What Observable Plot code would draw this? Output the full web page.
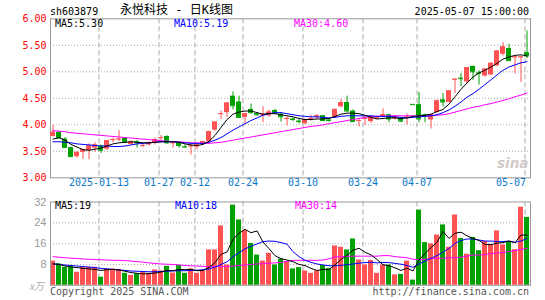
<!DOCTYPE html>
<html><head><meta charset="utf-8">
<script src="https://cdn.jsdelivr.net/npm/d3@7"></script>
<script src="https://cdn.jsdelivr.net/npm/@observablehq/plot@0.6"></script>
<style>
html,body{margin:0;padding:0;background:#fff;}
#wrap{position:relative;width:545px;height:300px;overflow:hidden;font-family:"DejaVu Sans Mono",monospace;font-size:10px;}
#wrap svg{position:absolute;left:0;}
.t{position:absolute;white-space:nowrap;line-height:12px;}
</style></head><body><div id="wrap"></div>
<script>
// ---- data ----
const tickIndex = [8, 18, 24, 32, 42, 52, 61, 79];
const tickLabels = ["2025-01-13","01-27","02-12","02-24","03-10","03-24","04-07","05-07"];
const priceTicks = [3, 3.5, 4, 4.5, 5, 5.5, 6];
const volTicks = [8, 16, 24, 32];

const open = [3.78,3.86,3.73,3.57,3.40,3.48,3.51,3.56,3.60,3.54,
 3.71,3.72,3.75,3.63,3.68,3.60,3.62,3.66,3.75,3.78,
 3.65,3.66,3.59,3.59,3.58,3.63,3.68,3.90,4.20,4.23,
 4.54,4.43,4.14,4.29,4.21,4.17,4.17,4.27,4.20,4.11,
 4.11,4.07,4.02,4.11,4.14,4.17,4.09,4.14,4.34,4.42,
 4.26,4.07,4.11,4.06,4.13,4.15,4.19,4.11,4.12,4.14,
 4.385,4.38,4.19,4.09,4.23,4.47,4.42,4.85,4.88,4.81,
 5.10,4.98,4.92,4.94,5.11,5.33,5.44,5.27,5.27,5.36];
const high = [3.99,3.87,3.76,3.58,3.49,3.54,3.64,3.66,3.62,3.71,
 3.75,3.89,3.76,3.70,3.70,3.65,3.68,3.75,3.80,3.79,
 3.68,3.67,3.62,3.63,3.64,3.69,3.88,4.06,4.26,4.42,
 4.62,4.54,4.22,4.39,4.23,4.34,4.28,4.29,4.23,4.15,
 4.13,4.10,4.11,4.18,4.19,4.18,4.12,4.30,4.48,4.54,
 4.28,4.12,4.16,4.16,4.16,4.30,4.20,4.17,4.13,4.20,
 4.385,4.61,4.20,4.20,4.47,4.59,4.64,4.87,4.97,5.08,
 5.11,5.02,5.06,5.17,5.40,5.55,5.52,5.29,5.29,5.77];
const low = [3.77,3.74,3.56,3.38,3.37,3.35,3.34,3.48,3.46,3.52,
 3.66,3.68,3.65,3.62,3.56,3.57,3.60,3.62,3.70,3.63,
 3.56,3.56,3.56,3.43,3.53,3.62,3.66,3.88,4.10,4.14,
 4.28,4.12,4.01,4.20,4.16,4.04,4.14,4.20,4.05,3.98,
 4.06,4.02,4.00,4.07,4.10,4.06,4.05,4.12,4.32,4.24,
 4.05,3.96,3.99,4.03,4.10,4.13,4.04,4.09,4.04,4.00,
 4.38,4.04,4.04,3.92,4.22,4.34,4.42,4.59,4.72,4.78,
 4.84,4.75,4.90,4.93,5.10,5.30,5.20,4.96,4.80,5.25];
const close = [3.86,3.75,3.57,3.40,3.48,3.53,3.60,3.62,3.52,3.70,
 3.72,3.73,3.67,3.68,3.66,3.61,3.66,3.72,3.76,3.66,
 3.66,3.61,3.58,3.60,3.62,3.68,3.87,4.05,4.21,4.41,
 4.36,4.14,4.21,4.23,4.19,4.20,4.24,4.22,4.15,4.12,
 4.10,4.06,4.10,4.12,4.17,4.08,4.08,4.29,4.42,4.26,
 4.06,4.08,4.12,4.15,4.14,4.19,4.11,4.15,4.07,4.15,
 4.38,4.11,4.17,4.19,4.45,4.43,4.64,4.86,4.87,5.08,
 5.00,4.97,5.05,5.16,5.39,5.47,5.21,5.28,5.28,5.30];
const volume = [9.3,8.2,6.9,7.6,5.0,6.9,6.9,6.9,3.1,6.3,
 6.3,6.1,4.6,3.8,4.4,5.0,4.6,5.9,5.5,7.3,
 4.7,7.7,4.6,6.3,4.6,5.5,13.6,13.6,22.8,7.8,
 30.8,25.1,21.0,16.1,11.6,9.3,12.3,7.8,10.1,9.1,
 6.3,6.8,5.5,4.6,5.5,7.6,6.5,15.1,14.6,13.6,
 17.8,9.7,7.8,9.5,4.6,7.8,7.8,4.0,4.2,9.3,
 2.0,28.9,16.4,15.9,19.3,23.2,14.6,27.0,18.0,11.9,
 18.4,13.3,16.8,15.5,20.9,15.5,16.5,13.7,30.0,26.1];

const ma5 = [3.73,3.76,3.71,3.63,3.58,3.53,3.52,3.54,3.56,3.60,
 3.64,3.66,3.67,3.68,3.67,3.66,3.66,3.67,3.68,3.68,
 3.68,3.67,3.64,3.62,3.61,3.63,3.69,3.80,3.95,4.10,
 4.20,4.24,4.26,4.26,4.23,4.20,4.21,4.21,4.19,4.17,
 4.15,4.12,4.10,4.10,4.11,4.11,4.12,4.16,4.20,4.22,
 4.22,4.21,4.18,4.14,4.11,4.12,4.13,4.13,4.12,4.13,
 4.16,4.17,4.18,4.20,4.25,4.29,4.39,4.53,4.67,4.79,
 4.90,4.98,5.03,5.09,5.16,5.24,5.28,5.31,5.32,5.30];
const ma10 = [3.68,3.68,3.67,3.66,3.64,3.63,3.62,3.61,3.60,3.60,
 3.59,3.59,3.60,3.62,3.64,3.65,3.66,3.67,3.68,3.68,
 3.68,3.67,3.66,3.65,3.65,3.65,3.67,3.71,3.76,3.83,
 3.90,3.96,4.02,4.08,4.13,4.18,4.21,4.23,4.23,4.21,
 4.19,4.17,4.16,4.15,4.15,4.14,4.13,4.14,4.16,4.17,
 4.17,4.17,4.17,4.17,4.16,4.16,4.16,4.15,4.14,4.13,
 4.14,4.15,4.16,4.17,4.19,4.23,4.28,4.35,4.43,4.52,
 4.59,4.67,4.76,4.85,4.94,5.03,5.09,5.13,5.17,5.19];
const ma30 = [3.89,3.88,3.87,3.85,3.84,3.83,3.82,3.81,3.80,3.79,
 3.78,3.77,3.76,3.75,3.74,3.73,3.72,3.71,3.70,3.69,
 3.68,3.68,3.67,3.66,3.66,3.65,3.65,3.66,3.67,3.69,
 3.71,3.73,3.75,3.77,3.79,3.81,3.83,3.85,3.87,3.89,
 3.91,3.93,3.95,3.97,3.98,4.00,4.02,4.04,4.06,4.08,
 4.10,4.12,4.14,4.15,4.16,4.16,4.17,4.17,4.17,4.17,
 4.17,4.17,4.17,4.17,4.18,4.19,4.21,4.24,4.27,4.30,
 4.33,4.35,4.38,4.40,4.43,4.46,4.49,4.53,4.56,4.60];

const vma5 = [8.2,8.1,7.4,7.0,6.8,6.5,6.3,6.1,5.7,6.0,
 6.1,5.9,5.4,4.9,4.6,4.4,4.5,4.7,5.1,5.7,
 5.6,6.1,6.0,6.1,5.6,5.7,6.9,8.7,11.9,12.8,
 17.7,20.0,21.5,20.2,20.9,16.6,14.1,11.4,10.2,9.7,
 9.1,8.0,7.6,6.5,5.7,6.1,6.0,7.9,9.9,11.5,
 13.5,14.2,12.7,11.7,9.9,7.9,7.5,6.7,5.7,6.6,
 5.5,9.7,12.2,14.5,16.5,20.7,18.0,20.0,20.4,19.0,
 18.0,17.2,15.7,15.6,16.2,16.4,17.0,16.4,19.3,19.3];
const vma10 = [8.2,8.0,7.8,7.6,7.4,7.2,7.0,6.8,6.5,6.3,
 6.1,5.9,5.7,5.5,5.4,5.3,5.2,5.2,5.3,5.4,
 5.5,5.6,5.6,5.7,5.8,6.0,6.3,7.0,8.0,9.0,
 11.0,12.5,14.0,15.0,15.9,16.8,17.0,16.9,16.4,15.8,
 12.9,11.0,9.6,8.8,8.2,7.8,7.5,7.5,7.7,7.9,
 8.2,8.5,8.7,8.9,8.6,8.8,8.7,8.4,8.1,7.6,
 6.9,8.2,9.3,10.4,11.4,12.7,14.2,16.1,17.2,17.8,
 17.8,17.4,17.0,17.0,16.8,16.8,17.0,16.5,17.0,18.0];
const vma30 = [11.0,10.8,10.6,10.4,10.3,10.1,10.0,9.9,9.8,9.7,
 9.6,9.6,9.5,9.3,9.1,8.9,8.6,8.4,8.2,8.1,
 8.0,7.8,7.6,7.5,7.4,7.3,7.2,7.2,7.2,7.3,
 7.4,7.6,7.8,8.0,8.2,8.3,8.5,8.6,8.8,9.2,
 9.6,9.6,9.6,9.6,9.6,9.7,10.2,10.9,11.0,11.1,
 11.2,11.2,11.2,11.2,11.2,11.4,11.4,11.0,10.8,10.6,
 10.0,9.8,10.0,10.2,10.4,10.4,10.6,10.6,10.8,11.2,
 11.6,11.6,11.8,12.2,12.4,12.6,13.0,13.3,13.8,14.2];

// ---- styling ----
const RED = "#ff5252", GREEN = "#00a000", GRID = "#aaaaaa", FRAME = "#999999", DATEC = "#0a78c8";
const N = close.length;
const candles = d3.range(N).map(i => ({
  i, o: open[i], h: high[i], l: low[i], c: close[i], v: volume[i],
  col: close[i] > open[i] ? RED : close[i] < open[i] ? GREEN : (i > 0 && close[i] < close[i-1] ? GREEN : RED)
}));
const xDom = [-0.42, N - 0.42];
const W = 0.42;
const maLine = (arr, color) => Plot.line(arr, {x: (d, i) => i, y: d => d, stroke: color, strokeWidth: 1});
const common = {width: 545, marginLeft: 50, marginRight: 15, style: {fontFamily: "DejaVu Sans Mono", fontSize: "10px", background: "transparent", overflow: "visible"}};

const upper = Plot.plot({
  ...common, height: 190, marginTop: 18.3, marginBottom: 190 - 177.3,
  x: {domain: xDom, axis: null},
  y: {domain: [3, 6], axis: null},
  color: {type: "identity"},
  marks: [
    Plot.ruleY(priceTicks.slice(1, -1), {stroke: GRID, strokeDasharray: "1,2"}),
    Plot.ruleX(tickIndex, {dx: -2, stroke: GRID, strokeDasharray: "5,3"}),
    Plot.frame({stroke: FRAME}),
    Plot.text(priceTicks, {y: d => d, text: d => d.toFixed(2), frameAnchor: "left", textAnchor: "end", dx: -4, fill: "#ff0000"}),
    Plot.ruleX(candles, {x: "i", y1: "l", y2: "h", stroke: "col"}),
    Plot.rect(candles, {x1: d => d.i - W, x2: d => d.i + W, y1: "o", y2: "c", fill: "col"}),
    Plot.ruleY(candles, {x1: d => d.i - W, x2: d => d.i + W, y: "c", stroke: "col"}),
    maLine(ma30, "#ff00ff"),
    maLine(ma10, "#0000ff"),
    maLine(ma5, "#000000"),
    Plot.text(tickLabels.slice(0, -1), {x: (d, i) => tickIndex[i], frameAnchor: "bottom", dy: 8.5, dx: -2, fill: DATEC}),
    Plot.text(tickLabels.slice(-1), {x: tickIndex[tickIndex.length - 1], frameAnchor: "bottom", dy: 8.5, dx: -1, textAnchor: "end", fill: DATEC})
  ]
});

const lower = Plot.plot({
  ...common, height: 110, marginTop: 11.5, marginBottom: 15.2,
  x: {domain: xDom, axis: null},
  y: {domain: [0, 32], axis: null},
  color: {type: "identity"},
  marks: [
    Plot.ruleY(volTicks.slice(0, -1), {stroke: GRID, strokeDasharray: "1,2"}),
    Plot.ruleX(tickIndex, {dx: -2, stroke: GRID, strokeDasharray: "5,3"}),
    Plot.text(volTicks, {y: d => d, text: d => String(d), frameAnchor: "left", textAnchor: "end", dx: -4, fill: "#999999", fontFamily: "Liberation Sans", fontSize: 11}),
    Plot.rect(candles, {x1: d => d.i - W, x2: d => d.i + W, y1: 0, y2: "v", fill: "col"}),
    maLine(vma30, "#ff00ff"),
    maLine(vma10, "#0000ff"),
    maLine(vma5, "#000000"),
    Plot.frame({stroke: FRAME})
  ]
});

const wrap = document.getElementById("wrap");
upper.style.top = "0px";
lower.style.top = "190px";
wrap.appendChild(upper);
wrap.appendChild(lower);

function addText(txt, css) {
  const d = document.createElement("div");
  d.className = "t";
  d.textContent = txt;
  Object.assign(d.style, css);
  wrap.appendChild(d);
}
addText("sh603879", {left: "50px", top: "5.5px", color: "#000"});
addText("永悦科技 - 日K线图", {left: "120px", top: "3px", fontSize: "12px", lineHeight: "14px", color: "#000", fontFamily: "'DejaVu Sans Mono','Noto Sans CJK SC',monospace"});
addText("2025-05-07 15:00:00", {right: "16px", top: "5.5px", color: "#000"});
addText("MA5:" + ma5[N - 1].toFixed(2), {left: "55px", top: "18.2px", color: "#000"});
addText("MA10:" + ma10[N - 1].toFixed(2), {left: "174px", top: "18.2px", color: "#0000ff"});
addText("MA30:" + ma30[N - 1].toFixed(2), {left: "294px", top: "18.2px", color: "#ff00ff"});
addText("MA5:" + Math.round(vma5[N - 1]), {left: "55px", top: "200px", color: "#000"});
addText("MA10:" + Math.round(vma10[N - 1]), {left: "175px", top: "200px", color: "#0000ff"});
addText("MA30:" + Math.round(vma30[N - 1]), {left: "295px", top: "200px", color: "#ff00ff"});
addText("x万", {left: "29px", top: "279.5px", color: "#aaaaaa", fontFamily: "'Noto Sans CJK SC',sans-serif", fontSize: "10px", fontStyle: "italic"});
addText("Copyright 2025 SINA.COM", {left: "50px", top: "286.3px", color: "#555"});
addText("http://finance.sina.com.cn", {right: "16px", top: "286.3px", color: "#555"});
addText("sina", {left: "497px", top: "155px", color: "#d2caca", fontFamily: "'DejaVu Sans',sans-serif", fontWeight: "bold", fontStyle: "italic", fontSize: "13.5px", lineHeight: "16px"});
</script>
</body></html>
